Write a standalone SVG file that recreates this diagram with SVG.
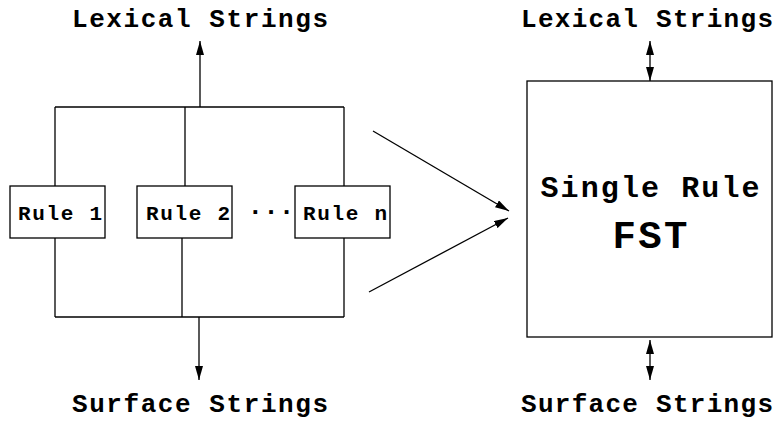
<svg xmlns="http://www.w3.org/2000/svg" width="780" height="421" viewBox="0 0 780 421">
<style>
text{font-family:"Liberation Mono","Courier New",monospace;font-weight:bold;fill:#000;text-anchor:middle}
.ln{stroke:#000;stroke-width:1.3;fill:none}
.box{stroke:#000;stroke-width:1.3;fill:#fff}
.lbl{font-size:26px}
.rule{font-size:21px}
</style>
<defs>
<marker id="ah" viewBox="0 0 14 8" refX="14" refY="4" markerWidth="14" markerHeight="8" markerUnits="userSpaceOnUse" orient="auto-start-reverse">
<path d="M0,0 L14,4 L0,8 Z" fill="#000"/>
</marker>
</defs>
<rect width="780" height="421" fill="#fff"/>
<g id="connectors">
<line class="ln" x1="55" y1="107" x2="344" y2="107"/>
<line class="ln" x1="55" y1="317" x2="344" y2="317"/>
<line class="ln" x1="55" y1="107" x2="55" y2="186"/>
<line class="ln" x1="185" y1="107" x2="185" y2="186"/>
<line class="ln" x1="344" y1="107" x2="344" y2="186"/>
<line class="ln" x1="55" y1="238" x2="55" y2="317"/>
<line class="ln" x1="182" y1="238" x2="182" y2="317"/>
<line class="ln" x1="344" y1="238" x2="344" y2="317"/>
<line class="ln" x1="200" y1="107" x2="200" y2="41" marker-end="url(#ah)"/>
<line class="ln" x1="199" y1="317" x2="199" y2="380" marker-end="url(#ah)"/>
<line class="ln" x1="373" y1="131" x2="509" y2="211" marker-end="url(#ah)"/>
<line class="ln" x1="369" y1="292" x2="508" y2="218" marker-end="url(#ah)"/>
<line class="ln" x1="650" y1="41" x2="650" y2="81" marker-start="url(#ah)" marker-end="url(#ah)"/>
<line class="ln" x1="650" y1="340" x2="650" y2="380" marker-start="url(#ah)" marker-end="url(#ah)"/>
</g>
<g id="lexical-left"><text class="lbl" x="200" y="27" textLength="256" lengthAdjust="spacing">Lexical Strings</text></g>
<g id="surface-left"><text class="lbl" x="200" y="412" textLength="256" lengthAdjust="spacing">Surface Strings</text></g>
<g id="rule1"><rect class="box" x="10" y="186" width="95" height="52"/><text class="rule" x="60" y="220" textLength="84" lengthAdjust="spacing">Rule 1</text></g>
<g id="rule2"><rect class="box" x="137" y="186" width="95" height="52"/><text class="rule" x="188" y="220" textLength="84" lengthAdjust="spacing">Rule 2</text></g>
<g id="dots"><text class="rule" x="271" y="214" style="font-size:26px">...</text></g>
<g id="rulen"><rect class="box" x="295" y="186" width="95" height="52"/><text class="rule" x="345" y="220" textLength="84" lengthAdjust="spacing">Rule n</text></g>
<g id="fst"><rect class="box" x="527" y="81" width="245" height="256"/>
<text x="650" y="197" style="font-size:30px" textLength="219" lengthAdjust="spacing">Single Rule</text>
<text x="650" y="248" style="font-size:39px" textLength="75" lengthAdjust="spacing">FST</text></g>
<g id="lexical-right"><text class="lbl" x="647" y="27" textLength="252" lengthAdjust="spacing">Lexical Strings</text></g>
<g id="surface-right"><text class="lbl" x="647" y="412" textLength="252" lengthAdjust="spacing">Surface Strings</text></g>
</svg>
